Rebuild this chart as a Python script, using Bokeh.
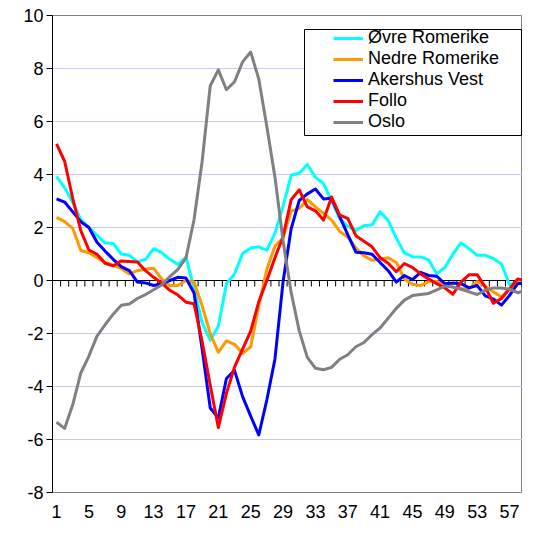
import numpy as np
from bokeh.plotting import figure
from bokeh.models import FixedTicker, Legend, LegendItem, BoxAnnotation
from bokeh.embed import file_html
from bokeh.resources import INLINE

# ---- data ----
weeks = list(range(1, 60))

ovre_romerike = [3.92, 3.50, 2.95, 2.30, 2.00, 1.70, 1.42, 1.40, 1.00, 0.95,
                 0.70, 0.80, 1.20, 1.05, 0.80, 0.60, 0.88, -0.30, -1.60, -2.25,
                 -1.73, -0.12, 0.25, 1.02, 1.23, 1.27, 1.15, 1.79, 2.80, 3.97,
                 4.05, 4.38, 3.89, 3.66, 3.00, 2.34, 2.04, 1.89, 2.07, 2.10,
                 2.59, 2.26, 1.60, 1.04, 0.90, 0.89, 0.78, 0.25, 0.49, 1.00,
                 1.42, 1.20, 0.95, 0.95, 0.83, 0.62, -0.16, -0.06, 0.19]

nedre_romerike = [2.38, 2.22, 1.97, 1.13, 1.05, 0.86, 0.68, 0.58, 0.45, 0.25,
                  0.37, 0.43, 0.46, 0.06, -0.19, -0.19, 0.00, -0.06, -0.95, -2.00,
                  -2.71, -2.28, -2.41, -2.75, -2.50, -0.95, 0.43, 1.30, 1.60, 2.62,
                  2.72, 3.05, 2.78, 2.53, 2.28, 1.85, 1.64, 1.23, 0.93, 0.76,
                  0.80, 0.86, 0.68, 0.06, -0.14, -0.19, -0.04, -0.04, -0.12, -0.25,
                  -0.31, -0.30, -0.04, -0.21, -0.43, -0.62, -0.33, -0.04, -0.12]

akershus_vest = [3.08, 2.96, 2.59, 2.22, 2.00, 1.44, 1.11, 0.80, 0.52, 0.37,
                 -0.06, -0.09, -0.19, -0.12, 0.00, 0.12, 0.09, -0.47, -2.60, -4.81,
                 -5.18, -3.70, -3.39, -4.38, -5.12, -5.83, -4.50, -2.96, -0.05, 1.95,
                 3.02, 3.27, 3.45, 3.08, 3.10, 2.41, 1.73, 1.07, 1.05, 0.99,
                 0.68, 0.37, -0.06, 0.19, 0.03, 0.31, 0.19, 0.16, -0.12, -0.09,
                 -0.12, -0.28, -0.19, -0.58, -0.70, -0.93, -0.56, -0.12, -0.09]

follo = [5.16, 4.50, 3.10, 1.88, 1.15, 0.99, 0.65, 0.55, 0.74, 0.72,
         0.70, 0.37, 0.12, -0.10, -0.37, -0.55, -0.82, -0.88, -2.30, -3.95,
         -5.55, -4.26, -3.27, -2.59, -1.91, -0.80, 0.00, 0.86, 1.65, 3.05,
         3.42, 2.78, 2.63, 2.28, 3.15, 2.47, 2.34, 1.69, 1.48, 1.27,
         0.86, 0.65, 0.33, 0.64, 0.49, 0.25, 0.06, -0.12, -0.28, -0.52,
         -0.06, 0.22, 0.22, -0.25, -0.86, -0.68, -0.31, 0.06, 0.00]

oslo = [-5.35, -5.58, -4.69, -3.49, -2.85, -2.10, -1.67, -1.27, -0.93, -0.89,
        -0.68, -0.53, -0.35, -0.17, 0.15, 0.42, 0.85, 2.30, 4.50, 7.35,
        7.95, 7.20, 7.50, 8.25, 8.62, 7.60, 5.80, 3.90, 1.50, -0.45,
        -1.90, -2.90, -3.31, -3.37, -3.28, -2.97, -2.80, -2.50, -2.34, -2.04,
        -1.79, -1.42, -1.05, -0.74, -0.57, -0.53, -0.49, -0.35, -0.21, -0.25,
        -0.33, -0.43, -0.53, -0.37, -0.28, -0.28, -0.33, -0.46, -0.37]

series_names = ["Øvre Romerike", "Nedre Romerike", "Akershus Vest", "Follo", "Oslo"]
series_values = [ovre_romerike, nedre_romerike, akershus_vest, follo, oslo]
series_colors = ["#00FFFF", "#FF9900", "#0000FF", "#FF0000", "#808080"]

y_ticks = [-8, -6, -4, -2, 0, 2, 4, 6, 8, 10]
x_ticks = [1, 5, 9, 13, 17, 21, 25, 29, 33, 37, 41, 45, 49, 53, 57]

FONT = "Liberation Sans"
W, H = 522, 524
B_LEFT, B_TOP, B_BOTTOM = 52, 15, 32

p = figure(width=W, height=H, x_range=(0.5, 58.6), y_range=(-8, 10),
           output_backend="svg", toolbar_location=None,
           min_border_left=B_LEFT, min_border_right=0,
           min_border_top=B_TOP, min_border_bottom=B_BOTTOM)

p.outline_line_color = "#808080"
p.outline_line_width = 1
p.background_fill_color = "white"
p.border_fill_color = "white"

p.xgrid.visible = False
p.ygrid.ticker = FixedTicker(ticks=y_ticks)
p.ygrid.grid_line_color = "#C8C8FA"
p.ygrid.grid_line_width = 1

# y axis
p.yaxis.ticker = FixedTicker(ticks=y_ticks)
p.yaxis.major_label_overrides = {v: str(v) for v in y_ticks}
p.yaxis.axis_line_color = "black"
p.yaxis.major_tick_line_color = "black"
p.yaxis.major_tick_out = 6
p.yaxis.major_tick_in = 0
p.yaxis.minor_tick_line_color = None
p.yaxis.major_label_standoff = 3
p.yaxis.major_label_text_font = FONT
p.yaxis.major_label_text_font_size = "18px"
p.yaxis.major_label_text_color = "black"

# x axis (labels only, at the bottom)
p.xaxis.ticker = FixedTicker(ticks=x_ticks)
p.xaxis.axis_line_color = None
p.xaxis.major_tick_line_color = None
p.xaxis.minor_tick_line_color = None
p.xaxis.major_tick_out = 0
p.xaxis.major_tick_in = 0
p.xaxis.major_label_standoff = 12
p.xaxis.major_label_text_font = FONT
p.xaxis.major_label_text_font_size = "18px"
p.xaxis.major_label_text_color = "black"

# category axis line crossing at y = 0, with small ticks between categories
zero_level = [0]
p.hspan(y=zero_level, line_color="black", line_width=1)
bounds = [w + 0.5 for w in weeks]
frame_h = H - B_TOP - B_BOTTOM
tick_len = -6 * (10 - (-8)) / frame_h
p.segment(x0=bounds, y0=[0] * len(bounds), x1=bounds, y1=[tick_len] * len(bounds),
          line_color="black", line_width=1)

renderers = []
for name, vals, col in zip(series_names, series_values, series_colors):
    r = p.line(weeks, vals, line_color=col, line_width=3, line_join="round")
    renderers.append(r)

# legend frame
box = BoxAnnotation(left=304, right=521, top=29, bottom=135,
                    left_units="canvas", right_units="canvas",
                    top_units="canvas", bottom_units="canvas",
                    fill_color="white", fill_alpha=1.0,
                    line_color="black", line_width=1, line_alpha=1.0)
p.add_layout(box)

legend = Legend(items=[LegendItem(label=n, renderers=[r]) for n, r in zip(series_names, renderers)],
                location=(281, 360), padding=0, spacing=0, margin=0,
                glyph_width=30, glyph_height=20, label_height=20, label_standoff=5,
                label_text_font=FONT, label_text_font_size="18px", label_text_color="black",
                border_line_color=None, background_fill_alpha=0)
p.add_layout(legend)

with open("out.html", "w", encoding="utf-8") as f:
    f.write(file_html(p, INLINE))
